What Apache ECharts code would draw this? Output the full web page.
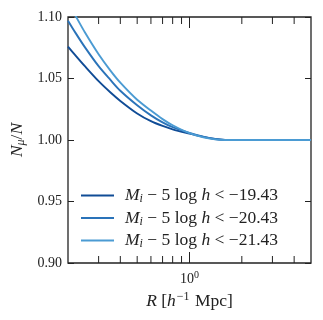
<!DOCTYPE html>
<html>
<head>
<meta charset="utf-8">
<script src="https://cdn.jsdelivr.net/npm/echarts@6/dist/echarts.min.js"></script>
<style>html,body{margin:0;padding:0;background:#fff}#c{width:323px;height:320px}</style>
</head>
<body>
<div id="c"></div>
<script>
// Data
const radius = [0.2, 0.22, 0.25, 0.3, 0.35, 0.4, 0.5, 0.6, 0.7, 0.8, 1.0, 1.2, 1.4, 1.6, 1.75, 2, 3, 4, 5];
const ratio1943 = [1.076, 1.069, 1.0600, 1.0478, 1.0388, 1.0318, 1.0216, 1.0153, 1.0114, 1.0087, 1.0052, 1.0025, 1.0008, 1.0001, 1.0, 1.0, 1.0, 1.0, 1.0];
const ratio2043 = [1.097, 1.0875, 1.0755, 1.0600, 1.0490, 1.0400, 1.0282, 1.0200, 1.0143, 1.0104, 1.0058, 1.0027, 1.0009, 1.0001, 1.0, 1.0, 1.0, 1.0, 1.0];
const ratio2143 = [1.112, 1.1015, 1.0876, 1.0697, 1.0566, 1.0466, 1.0327, 1.0239, 1.0170, 1.0120, 1.0055, 1.0021, 1.0005, 1.0, 1.0, 1.0, 1.0, 1.0, 1.0];
const seriesNames = ['M_i - 5 log h < -19.43', 'M_i - 5 log h < -20.43', 'M_i - 5 log h < -21.43'];
const legendMags = ['19.43', '20.43', '21.43'];
const yTicks = [0.90, 0.95, 1.00, 1.05, 1.10];
const xMajorTicks = [1];
const xMinorTicks = [0.3, 0.4, 0.5, 0.6, 0.7, 0.8, 0.9, 2, 3, 4];

const colors = ['#104c96', '#2a73b9', '#4b9bd3'];
const serif = '"Liberation Serif", "DejaVu Serif", serif';
const big = 17.5;

const chart = echarts.init(document.getElementById('c'), null, {renderer: 'canvas'});

function pairs(vals) { return radius.map((r, i) => [r, vals[i]]); }

const lineSeries = [ratio1943, ratio2043, ratio2143].map((vals, i) => ({
  name: seriesNames[i],
  type: 'line',
  data: pairs(vals),
  showSymbol: false,
  symbol: 'none',
  smooth: 0.3,
  clip: true,
  lineStyle: {color: colors[i], width: 1.9},
  itemStyle: {color: colors[i]},
  z: 3
}));

const tickData = xMinorTicks.map(v => [v, 0]).concat(xMajorTicks.map(v => [v, 1]));

const tickSeries = {
  type: 'custom',
  silent: true,
  data: tickData,
  encode: {x: 0},
  z: 5,
  renderItem: function (params, api) {
    const v = api.value(0);
    const major = api.value(1) === 1;
    const len = major ? 11 : 7;
    const b = api.coord([v, 0.9]);
    const t = api.coord([v, 1.1]);
    const st = {stroke: '#222', lineWidth: 1};
    return {
      type: 'group',
      children: [
        {type: 'line', shape: {x1: b[0], y1: b[1], x2: b[0], y2: b[1] - len}, style: st},
        {type: 'line', shape: {x1: t[0], y1: t[1], x2: t[0], y2: t[1] + len}, style: st}
      ]
    };
  }
};

const option = {
  animation: false,
  backgroundColor: '#fff',
  grid: {left: 68, top: 17, width: 243, height: 246, show: true, borderColor: '#222', borderWidth: 1.3, backgroundColor: 'transparent'},
  legend: {
    data: seriesNames,
    orient: 'vertical',
    left: 76,
    top: 181,
    icon: 'rect',
    itemWidth: 33,
    itemHeight: 2.2,
    itemGap: 3.5,
    textStyle: {
      fontFamily: serif, fontSize: big, color: '#222', padding: [0, 0, 0, 6], lineHeight: 18,
      rich: {
        it: {fontFamily: serif, fontStyle: 'italic', fontSize: big, color: '#222', lineHeight: 18},
        sub: {fontFamily: serif, fontStyle: 'italic', fontSize: 12, color: '#222', lineHeight: 18, padding: [7, 0, 0, 0]},
        rm: {fontFamily: serif, fontSize: big, color: '#222', lineHeight: 18}
      }
    },
    formatter: function (name) {
      const i = seriesNames.indexOf(name);
      return '{it|M}{sub|i}{rm| \u2212 5 log }{it|h}{rm| < \u2212' + legendMags[i] + '}';
    }
  },
  xAxis: [{
    type: 'log',
    logBase: 10,
    min: 0.2,
    max: 5,
    position: 'bottom',
    axisLine: {show: false},
    axisTick: {show: false},
    splitLine: {show: false},
    minorTick: {show: false},
    axisLabel: {
      margin: 7,
      showMinLabel: false,
      showMaxLabel: false,
      formatter: function (v) { return Math.abs(v - 1) < 1e-9 ? '{b|10}{s|0}' : ''; },
      rich: {
        b: {fontFamily: serif, fontSize: 14, color: '#222'},
        s: {fontFamily: serif, fontSize: 10, color: '#222', verticalAlign: 'top', padding: [0, 0, 8, 0]}
      }
    },
    name: '{it|R}{rm| [}{it|h}{sup|\u22121}{rm| Mpc]}',
    nameLocation: 'middle',
    nameGap: 23,
    nameTextStyle: {
      rich: {
        it: {fontFamily: serif, fontStyle: 'italic', fontSize: big, color: '#222'},
        rm: {fontFamily: serif, fontSize: big, color: '#222'},
        sup: {fontFamily: serif, fontSize: 12, color: '#222', padding: [0, 1, 9, 1]}
      }
    }
  }],
  yAxis: [{
    type: 'value',
    min: yTicks[0],
    max: yTicks[yTicks.length - 1],
    interval: 0.05,
    position: 'left',
    axisLine: {show: false},
    axisTick: {show: true, inside: true, length: 6, lineStyle: {color: '#222', width: 1}},
    splitLine: {show: false},
    axisLabel: {margin: 6, fontFamily: serif, fontSize: 14, color: '#222', formatter: v => v.toFixed(2)},
    name: '{it|N}{sub|\u03bc}{rm|/}{it|N}',
    nameLocation: 'middle',
    nameGap: 40,
    nameRotate: 90,
    nameTextStyle: {
      rich: {
        it: {fontFamily: serif, fontStyle: 'italic', fontSize: big, color: '#222'},
        sub: {fontFamily: serif, fontStyle: 'italic', fontSize: 12, color: '#222', padding: [7, 0, 0, 0]},
        rm: {fontFamily: serif, fontSize: big, color: '#222'}
      }
    }
  }, {
    type: 'value',
    min: yTicks[0],
    max: yTicks[yTicks.length - 1],
    interval: 0.05,
    position: 'right',
    axisLine: {show: false},
    axisTick: {show: true, inside: true, length: 6, lineStyle: {color: '#222', width: 1}},
    splitLine: {show: false},
    axisLabel: {show: false}
  }],
  series: lineSeries.concat([tickSeries])
};

chart.setOption(option);
</script>
</body>
</html>
